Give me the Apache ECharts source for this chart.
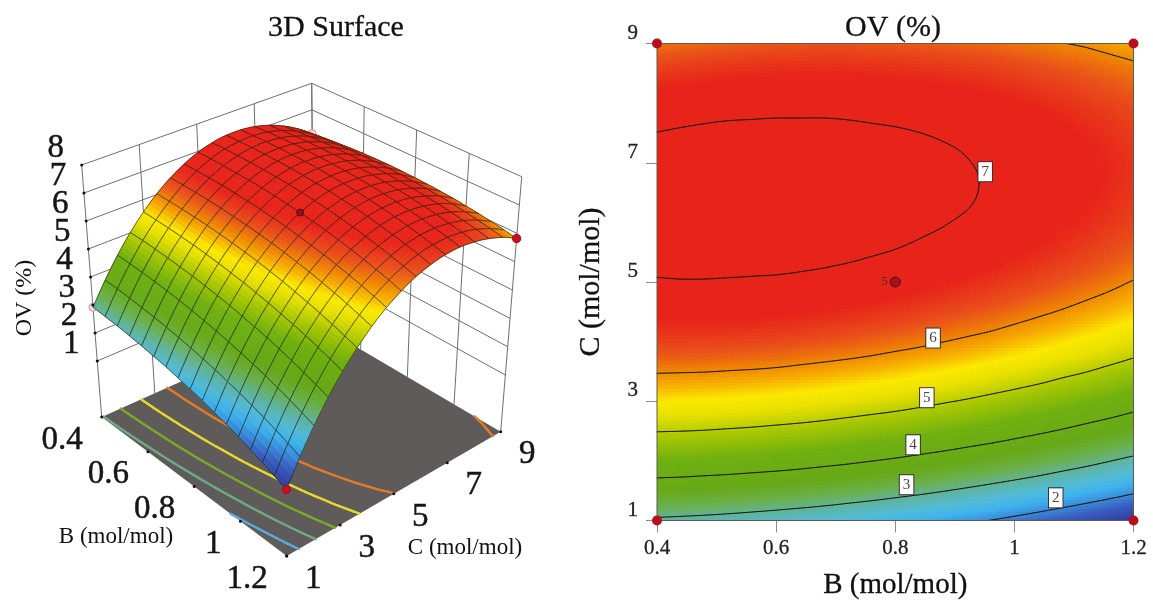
<!DOCTYPE html>
<html><head><meta charset="utf-8">
<style>html,body{margin:0;padding:0;background:#fff}#c{width:1153px;height:602px}</style>
<script src="https://cdn.jsdelivr.net/npm/echarts@6/dist/echarts.min.js"></script>
</head><body><div id="c"></div>
<script>
const bValues=[0.4,0.44,0.48,0.52,0.56,0.6,0.64,0.68,0.72,0.76,0.8,0.84,0.88,0.92,0.96,1,1.04,1.08,1.12,1.16,1.2];
const cValues=[1,1.4,1.8,2.2,2.6,3,3.4,3.8,4.2,4.6,5,5.4,5.8,6.2,6.6,7,7.4,7.8,8.2,8.6,9];
// OV (%): one row per C value, one column per B value
const ov=[
[2.92,2.89,2.86,2.82,2.77,2.72,2.66,2.60,2.53,2.45,2.37,2.29,2.19,2.09,1.99,1.88,1.76,1.63,1.51,1.37,1.23],
[3.54,3.52,3.49,3.45,3.41,3.36,3.31,3.25,3.18,3.11,3.03,2.95,2.86,2.76,2.66,2.55,2.44,2.32,2.19,2.06,1.92],
[4.12,4.10,4.07,4.04,4.00,3.96,3.91,3.85,3.79,3.72,3.65,3.57,3.48,3.39,3.29,3.19,3.08,2.96,2.84,2.71,2.57],
[4.65,4.63,4.61,4.58,4.55,4.51,4.46,4.41,4.35,4.28,4.21,4.13,4.05,3.96,3.87,3.77,3.66,3.55,3.43,3.30,3.17],
[5.13,5.12,5.10,5.07,5.04,5.00,4.96,4.91,4.85,4.79,4.73,4.65,4.57,4.49,4.40,4.30,4.20,4.09,3.97,3.85,3.72],
[5.56,5.55,5.53,5.51,5.48,5.45,5.41,5.36,5.31,5.25,5.19,5.12,5.04,4.96,4.87,4.78,4.68,4.58,4.46,4.35,4.22],
[5.94,5.93,5.92,5.90,5.88,5.85,5.81,5.77,5.72,5.67,5.61,5.54,5.47,5.39,5.30,5.21,5.12,5.01,4.91,4.79,4.67],
[6.27,6.27,6.26,6.24,6.22,6.20,6.16,6.12,6.08,6.03,5.97,5.91,5.84,5.77,5.69,5.60,5.51,5.41,5.30,5.19,5.07],
[6.55,6.55,6.55,6.54,6.52,6.50,6.47,6.43,6.39,6.34,6.29,6.23,6.16,6.09,6.02,5.93,5.84,5.75,5.65,5.54,5.43],
[6.78,6.79,6.79,6.78,6.77,6.75,6.72,6.69,6.65,6.61,6.56,6.50,6.44,6.37,6.30,6.22,6.13,6.04,5.94,5.84,5.73],
[6.97,6.98,6.98,6.97,6.96,6.95,6.93,6.90,6.86,6.82,6.78,6.72,6.67,6.60,6.53,6.45,6.37,6.28,6.19,6.09,5.98],
[7.10,7.12,7.12,7.12,7.11,7.10,7.08,7.06,7.03,6.99,6.95,6.90,6.84,6.78,6.72,6.64,6.56,6.48,6.39,6.29,6.19],
[7.19,7.20,7.21,7.22,7.21,7.20,7.19,7.17,7.14,7.11,7.07,7.02,6.97,6.91,6.85,6.78,6.70,6.62,6.54,6.44,6.34],
[7.22,7.24,7.26,7.26,7.26,7.26,7.25,7.23,7.20,7.17,7.14,7.10,7.05,7.00,6.94,6.87,6.80,6.72,6.64,6.55,6.45],
[7.21,7.23,7.25,7.26,7.26,7.26,7.25,7.24,7.22,7.19,7.16,7.12,7.08,7.03,6.97,6.91,6.84,6.77,6.69,6.60,6.51],
[7.15,7.18,7.20,7.21,7.22,7.22,7.21,7.20,7.18,7.16,7.13,7.10,7.06,7.01,6.96,6.90,6.84,6.76,6.69,6.61,6.52],
[7.04,7.07,7.09,7.11,7.12,7.12,7.12,7.12,7.10,7.08,7.06,7.03,6.99,6.95,6.90,6.84,6.78,6.71,6.64,6.56,6.47],
[6.88,6.91,6.94,6.96,6.97,6.98,6.98,6.98,6.97,6.95,6.93,6.90,6.87,6.83,6.78,6.73,6.68,6.61,6.54,6.47,6.38],
[6.67,6.70,6.73,6.76,6.78,6.79,6.79,6.79,6.79,6.77,6.76,6.73,6.70,6.67,6.62,6.58,6.52,6.46,6.39,6.32,6.24],
[6.41,6.45,6.48,6.51,6.53,6.55,6.56,6.56,6.56,6.55,6.53,6.51,6.49,6.45,6.42,6.37,6.32,6.26,6.20,6.13,6.06],
[6.10,6.14,6.18,6.21,6.24,6.26,6.27,6.28,6.28,6.27,6.26,6.24,6.22,6.19,6.16,6.11,6.07,6.01,5.96,5.89,5.82]
];
const bTicks=[0.4,0.6,0.8,1,1.2];
const cTicks=[1,3,5,7,9];
const zTicks=[1,2,3,4,5,6,7,8];
const contourLevels=[2,3,4,5,6,7];
const floorLevels=[2,3,4,5,6];
const floorColors=['#5aaadb','#6fa884','#7ba82c','#e6d62e','#e07b28'];
const contourLabelValues=[7,6,5,4,3,2];
const contourLabelB=[0.951,0.8635,0.853,0.83,0.819,1.0695];
const contourLabelC=[6.85,4.06,3.06,2.27,1.6,1.38];
const designB=[0.4,1.2,0.4,1.2,0.8];
const designC=[9,9,1,1,5];
const colorValues=[1.2,1.7,2.0,2.3,2.6,2.95,3.3,3.7,4.4,4.9,5.3,5.55,5.8,6.0,6.3,6.65];
const colorHexes=['#2b3a96','#3a5cc0','#3a88d8','#3db2ee','#52bbd8','#5fb4a0','#6bb04c','#66a916','#6fb010','#a8c800','#e8e000','#fbe900','#f7b000','#f08a00','#e9501a','#e8231a'];
const MESH=16;   // surface cells per side
const SUB=8;     // shading raster steps per table step

const SERIF='"Liberation Serif"';
const rgb=colorHexes.map(h=>[1,3,5].map(k=>parseInt(h.substr(k,2),16)));
function colorOf(v){
  const n=colorValues.length;
  if(v<=colorValues[0])return `rgb(${rgb[0]})`;
  if(v>=colorValues[n-1])return `rgb(${rgb[n-1]})`;
  let k=0;while(v>colorValues[k+1])k++;
  const t=(v-colorValues[k])/(colorValues[k+1]-colorValues[k]);
  return `rgb(${rgb[k].map((a,m)=>Math.round(a+(rgb[k+1][m]-a)*t))})`;
}
function lookup(B,C){return ov[cValues.indexOf(C)][bValues.indexOf(B)];}

// finer shading raster of the table, for drawing the smooth map, its contours and the mesh
function refine(arr){
  const out=[],n=arr.length;
  for(let k=0;k<n-1;k++){
    const p1=arr[k],p2=arr[k+1],p0=k>0?arr[k-1]:2*p1-p2,p3=k<n-2?arr[k+2]:2*p2-p1;
    for(let m=0;m<SUB;m++){
      const t=m/SUB;
      out.push(0.5*(2*p1+(p2-p0)*t+(2*p0-5*p1+4*p2-p3)*t*t+(3*p1-p0-3*p2+p3)*t*t*t));
    }
  }
  out.push(arr[n-1]);
  return out;
}
const bFine=refine(bValues),cFine=refine(cValues);
const rowsFine=ov.map(refine);
const colsFine=rowsFine[0].map((_,j)=>refine(rowsFine.map(r=>r[j])));
const fineAt=(i,j)=>colsFine[j][i];
const STEP=(bFine.length-1)/MESH;

// ---- view of the 3D box (pixel positions of its eight corners) ----
const floorCorners=[[101.7,417],[286.7,556],[500.7,431.7],[314,322]];
const topCorners=[[81.7,165],[285.2,288],[521.7,176.7],[311.7,83.3]];
const zFloor=-1,zTop=8;
function project(B,C,z){
  const u=(B-0.4)/0.8,v=(C-1)/8,k=(z-zFloor)/(zTop-zFloor);
  const P=floorCorners.map((p,m)=>[p[0]+(topCorners[m][0]-p[0])*k,p[1]+(topCorners[m][1]-p[1])*k]);
  const [a,b,c,d]=P;
  return [0,1].map(m=>(a[m]*(1-u)+b[m]*u)*(1-v)+(d[m]*(1-u)+c[m]*u)*v);
}

// ---- contour segments (marching squares) ----
function contourSegs(level){
  const out=[];
  for(let i=0;i<cFine.length-1;i++)for(let j=0;j<bFine.length-1;j++){
    const v=[fineAt(i,j),fineAt(i,j+1),fineAt(i+1,j+1),fineAt(i+1,j)];
    const x=[bFine[j],bFine[j+1],bFine[j+1],bFine[j]];
    const y=[cFine[i],cFine[i],cFine[i+1],cFine[i+1]];
    const pts=[];
    for(let k=0;k<4;k++){
      const m=(k+1)%4;
      if((v[k]<level)!==(v[m]<level)){
        const t=(level-v[k])/(v[m]-v[k]);
        pts.push([x[k]+(x[m]-x[k])*t,y[k]+(y[m]-y[k])*t]);
      }
    }
    if(pts.length===2)out.push([pts[0][0],pts[0][1],pts[1][0],pts[1][1],level]);
  }
  return out;
}
const allSegs=[].concat(...contourLevels.map(contourSegs));
const floorSegs=allSegs.filter(s=>floorLevels.includes(s[4]));

// ---- box lines ----
const boxSegs=[];
zTicks.forEach(z=>{boxSegs.push([0.4,1,z,0.4,9,z],[0.4,9,z,1.2,9,z]);});
cTicks.forEach(c=>boxSegs.push([0.4,c,zFloor,0.4,c,zTop]));
bTicks.forEach(b=>boxSegs.push([b,9,zFloor,b,9,zTop]));

const meshCells=[];
for(let i=MESH-1;i>=0;i--)for(let j=0;j<MESH;j++)meshCells.push([i,j]);
const fineRows=[];
for(let i=0;i<cFine.length-1;i++)fineRows.push([i]);

function pix(api,p){return api.coord(p);}
const plane={coordinateSystem:'cartesian2d',xAxisIndex:0,yAxisIndex:0,silent:true,progressive:0};
const flat={coordinateSystem:'cartesian2d',xAxisIndex:1,yAxisIndex:1,silent:true,progressive:0};

const dotsData=designB.map((b,k)=>[b,designC[k],lookup(b,designC[k])]);
function dot(api,d,fill,stroke,r){
  const p=pix(api,project(d[0],d[1],d[2]));
  return {type:'circle',shape:{cx:p[0],cy:p[1],r:r},style:{fill:fill,stroke:stroke,lineWidth:1}};
}
function tickText(api,p,dx,dy,text,align,size){
  const q=pix(api,p);
  return {type:'text',x:q[0]+dx,y:q[1]+dy,style:{text:String(text),fill:'#161616',stroke:'#161616',lineWidth:0.5,font:`${size}px ${SERIF}`,align:align,verticalAlign:'middle'}};
}

const series=[
 Object.assign({type:'custom',data:boxSegs,renderItem(par,api){
   const a=pix(api,project(api.value(0),api.value(1),api.value(2))),b=pix(api,project(api.value(3),api.value(4),api.value(5)));
   return {type:'line',shape:{x1:a[0],y1:a[1],x2:b[0],y2:b[1]},style:{stroke:'#6f6f6f',lineWidth:1}};
 }},plane),
 Object.assign({type:'custom',data:[[0]],renderItem(par,api){
   return {type:'polygon',shape:{points:[[0.4,1],[1.2,1],[1.2,9],[0.4,9]].map(q=>pix(api,project(q[0],q[1],zFloor)))},style:{fill:'#5f5b5b'}};
 }},plane),
 Object.assign({type:'custom',data:floorSegs,renderItem(par,api){
   const a=pix(api,project(api.value(0),api.value(1),zFloor)),b=pix(api,project(api.value(2),api.value(3),zFloor));
   return {type:'line',shape:{x1:a[0],y1:a[1],x2:b[0],y2:b[1]},style:{stroke:floorColors[floorLevels.indexOf(api.value(4))],lineWidth:2.2,lineCap:'round'}};
 }},plane),
 Object.assign({type:'custom',data:dotsData.filter(d=>d[0]===0.4),renderItem(par,api){
   return dot(api,[api.value(0),api.value(1),api.value(2)],'#f7dcdc','#d08a8a',4);
 }},plane),
 // surface
 Object.assign({type:'custom',data:meshCells,renderItem(par,api){
   const I=api.value(0)*STEP,J=api.value(1)*STEP,kids=[],d=2,n=STEP/d;
   const at=(a,b)=>{const i=I+b*d,j=J+a*d;return pix(api,project(bFine[j],cFine[i],fineAt(i,j)));};
   for(let a=0;a<n;a++)for(let b=0;b<n;b++){
     const i=I+b*d,j=J+a*d;
     const col=colorOf((fineAt(i,j)+fineAt(i,j+d)+fineAt(i+d,j)+fineAt(i+d,j+d))/4);
     kids.push({type:'polygon',shape:{points:[at(a,b),at(a+1,b),at(a+1,b+1),at(a,b+1)]},style:{fill:col,stroke:col,lineWidth:0.7}});
   }
   const ring=[];
   for(let a=0;a<n;a++)ring.push(at(a,0));
   for(let a=0;a<n;a++)ring.push(at(n,a));
   for(let a=n;a>0;a--)ring.push(at(a,n));
   for(let a=n;a>0;a--)ring.push(at(0,a));
   kids.push({type:'polygon',shape:{points:ring},style:{fill:'none',stroke:'rgba(28,30,12,0.62)',lineWidth:1}});
   return {type:'group',children:kids};
 }},plane),
 Object.assign({type:'custom',data:dotsData.filter(d=>d[0]!==0.4),renderItem(par,api){
   const centre=api.value(0)===0.8;
   return dot(api,[api.value(0),api.value(1),api.value(2)],centre?'#8e1220':'#c1121f',centre?'#5a0b12':'#a50f1a',centre?3.5:4.2);
 }},plane),
 Object.assign({type:'custom',data:[[0]],renderItem(par,api){
   const kids=[];
   const mark=p=>{const q=pix(api,p);kids.push({type:'circle',shape:{cx:q[0],cy:q[1],r:1.5},style:{fill:'#111'}});};
   bTicks.forEach(b=>{mark(project(b,1,zFloor));kids.push(tickText(api,project(b,1,zFloor),-19,23,b,'right',33));});
   cTicks.forEach(c=>{mark(project(1.2,c,zFloor));kids.push(tickText(api,project(1.2,c,zFloor),26.5,23,c,'center',33));});
   zTicks.forEach(z=>{mark(project(0.4,1,z));kids.push(tickText(api,project(0.4,1,z),-26,-17,z,'center',33));});
   return {type:'group',children:kids};
 }},plane),
 // contour map shading, one group per raster row
 Object.assign({type:'custom',data:fineRows,renderItem(par,api){
   const i=api.value(0),kids=[];
   for(let j=0;j<bFine.length-1;j++){
     const p=api.coord([bFine[j],cFine[i+1]]),q=api.coord([bFine[j+1],cFine[i]]);
     const x=Math.round(p[0]),y=Math.round(p[1]);
     const v=(fineAt(i,j)+fineAt(i,j+1)+fineAt(i+1,j)+fineAt(i+1,j+1))/4;
     kids.push({type:'rect',shape:{x:x,y:y,width:Math.round(q[0])-x,height:Math.round(q[1])-y},style:{fill:colorOf(v)}});
   }
   return {type:'group',children:kids};
 }},flat),
 Object.assign({type:'custom',data:allSegs,renderItem(par,api){
   const a=api.coord([api.value(0),api.value(1)]),b=api.coord([api.value(2),api.value(3)]);
   return {type:'line',shape:{x1:a[0],y1:a[1],x2:b[0],y2:b[1]},style:{stroke:'#1c1c14',lineWidth:1,lineCap:'round'}};
 }},flat),
 Object.assign({type:'custom',data:[[0.4,1,1.2,9]],renderItem(par,api){
   const a=api.coord([api.value(0),api.value(3)]),b=api.coord([api.value(2),api.value(1)]);
   return {type:'rect',shape:{x:a[0],y:a[1],width:b[0]-a[0],height:b[1]-a[1]},style:{fill:'none',stroke:'#5f5a4c',lineWidth:1}};
 }},flat),
 {type:'scatter',xAxisIndex:1,yAxisIndex:1,silent:true,clip:false,symbolSize:1,itemStyle:{opacity:0},
  data:contourLabelValues.map((v,k)=>({value:[contourLabelB[k],contourLabelC[k]],label:{formatter:String(v)}})),
  label:{show:true,position:'inside',opacity:1,color:'#444',fontFamily:SERIF,fontSize:15,backgroundColor:'#fff',borderColor:'#333',borderWidth:1,padding:[2,3,2,3]}},
 {type:'scatter',xAxisIndex:1,yAxisIndex:1,silent:true,clip:false,symbolSize:10,
  itemStyle:{color:'#b7101c',opacity:1},
  data:designB.map((b,k)=>{
    const centre=b===0.8;
    return {value:[b,designC[k]],itemStyle:centre?{color:'#a5121c',borderColor:'#4c0a0e',borderWidth:1,opacity:1}:undefined,
      label:centre?{show:true,formatter:'5',position:'left',distance:2,fontFamily:SERIF,fontSize:12,color:'#333'}:undefined};
  })}
];

const chart=echarts.init(document.getElementById('c'),null,{renderer:'canvas',width:1153,height:602});
const hidden={show:false,type:'value'};
const titleStyle={fontFamily:SERIF,fontSize:30,fontWeight:'normal',color:'#111',textBorderColor:'#111',textBorderWidth:0.3};
chart.setOption({
 animation:false,
 backgroundColor:'#fff',
 title:[
  {text:'3D Surface',left:336,top:13,padding:0,textAlign:'center',textStyle:titleStyle},
  {text:'OV (%)',left:893,top:13,padding:0,textAlign:'center',textStyle:titleStyle}
 ],
 grid:[
  {left:0,top:0,width:1153,height:602,show:false,outerBoundsMode:'none'},
  {left:657,top:43.5,width:476.5,height:477,show:false,outerBoundsMode:'none'}
 ],
 xAxis:[
  Object.assign({},hidden,{gridIndex:0,min:0,max:1153}),
  {type:'value',gridIndex:1,min:0.4,max:1.2,name:'B (mol/mol)',nameLocation:'middle',nameGap:50,
   nameTextStyle:{fontFamily:SERIF,fontSize:29,color:'#111',textBorderColor:'#111',textBorderWidth:0.3},
   axisLine:{show:false},splitLine:{show:false},
   axisTick:{show:true,length:12,customValues:bTicks,lineStyle:{color:'#8a8a8a',width:1}},
   axisLabel:{margin:17,customValues:bTicks,fontFamily:SERIF,fontSize:21,color:'#222',textBorderColor:'#222',textBorderWidth:0.3,hideOverlap:false,formatter:v=>String(+v.toFixed(1))}}
 ],
 yAxis:[
  Object.assign({},hidden,{gridIndex:0,min:0,max:602,inverse:true}),
  {type:'value',gridIndex:1,min:1,max:9,name:'C (mol/mol)',nameLocation:'middle',nameGap:51,
   nameTextStyle:{fontFamily:SERIF,fontSize:30,color:'#111',textBorderColor:'#111',textBorderWidth:0.3},
   axisLine:{show:false},splitLine:{show:false},
   axisTick:{show:true,length:11,customValues:cTicks,lineStyle:{color:'#8a8a8a',width:1}},
   axisLabel:{margin:19,customValues:cTicks,fontFamily:SERIF,fontSize:21,color:'#222',textBorderColor:'#222',textBorderWidth:0.3,verticalAlign:'bottom',formatter:v=>String(v)}}
 ],
 graphic:[
  {type:'text',x:116,y:537,silent:true,style:{text:'B (mol/mol)',font:`23px ${SERIF}`,fill:'#111',align:'center',verticalAlign:'middle'}},
  {type:'text',x:465,y:548,silent:true,style:{text:'C (mol/mol)',font:`23px ${SERIF}`,fill:'#111',align:'center',verticalAlign:'middle'}},
  {type:'text',x:25,y:298,rotation:Math.PI/2,silent:true,style:{text:'OV (%)',font:`24px ${SERIF}`,fill:'#111',align:'center',verticalAlign:'middle'}}
 ],
 series:series
});
</script></body></html>
